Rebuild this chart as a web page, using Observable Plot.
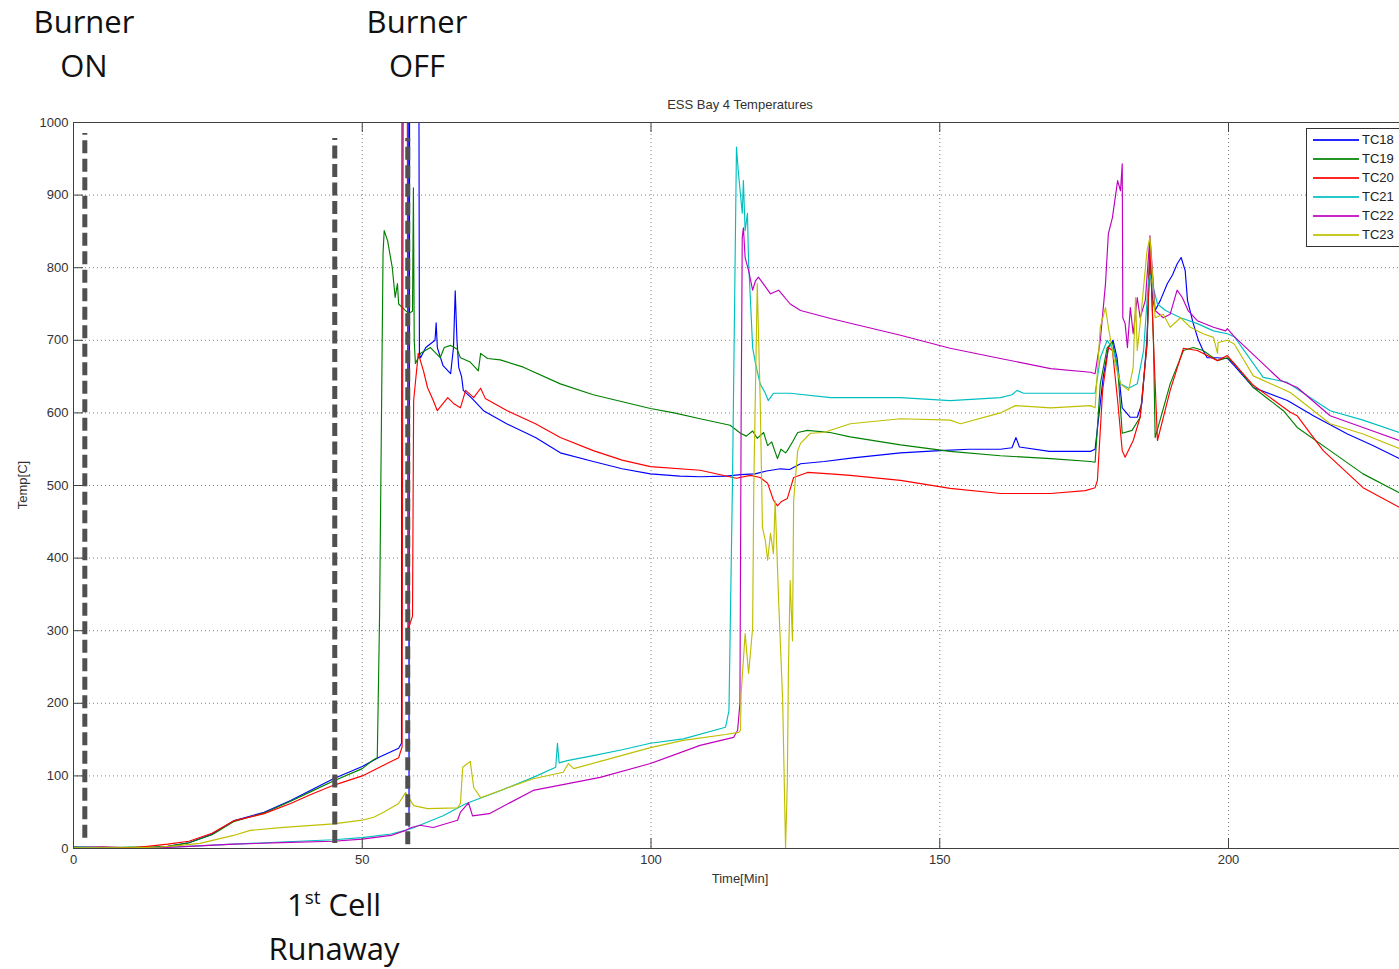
<!DOCTYPE html>
<html>
<head>
<meta charset="utf-8">
<title>ESS Bay 4 Temperatures</title>
<script src="https://cdn.jsdelivr.net/npm/d3@7"></script>
<script src="https://cdn.jsdelivr.net/npm/@observablehq/plot@0.6"></script>
<style>
  html, body { margin: 0; padding: 0; background: #fff; overflow: hidden; }
  #wrap { position: relative; width: 1399px; height: 969px; overflow: hidden; background: #fff; }
  #chart { position: absolute; left: 0; top: 0; width: 1460px; }
  #chart svg { max-width: none !important; }
  .note {
    position: absolute; transform: translateX(-50%);
    font-family: "Open Sans", sans-serif; font-size: 31px; line-height: 44px;
    color: #111; text-align: center; white-space: nowrap;
  }
  .note .sup { font-size: 19px; line-height: 0; position: relative; top: -12px; }
  .small {
    position: absolute; font-family: "Liberation Sans", Arial, sans-serif;
    font-size: 13px; line-height: 15px; color: #333; white-space: nowrap;
  }
  #title, #xlabel { transform: translateX(-50%); }
  #ylabel { transform: translate(-50%, -50%) rotate(-90deg); }
  #legend {
    position: absolute; left: 1306px; top: 128px; width: 130px; height: 119px;
    box-sizing: border-box; border: 1px solid #333; background: #fff; padding-top: 1px;
  }
  #legend .item { display: flex; align-items: center; height: 19px; padding-left: 6px; }
  #legend .item .swatch { display: block; width: 46px; height: 2px; margin-right: 3px; opacity: 0.85; }
  #legend .item span.name { font-family: "Liberation Sans", Arial, sans-serif; font-size: 13px; color: #222; }
</style>
</head>
<body>
<div id="wrap">
  <div id="chart"></div>
  <div class="note" style="left:84px; top:-1px;">Burner<br>ON</div>
  <div class="note" style="left:417px; top:-1px;">Burner<br>OFF</div>
  <div class="note" style="left:334px; top:882px;">1<span class="sup">st</span> Cell<br>Runaway</div>
  <div class="small" id="title" style="left:740px; top:97px;">ESS Bay 4 Temperatures</div>
  <div class="small" id="xlabel" style="left:740px; top:871px;">Time[Min]</div>
  <div class="small" id="ylabel" style="left:22px; top:485px;">Temp[C]</div>
  <div id="legend"></div>
</div>
<script>
// Thermocouple readings: [time in minutes, temperature in °C]
const tc18 = [[0,2],[5,2],[10,1],[14,2],[16.3,3],[20,8],[24,20],[27.7,38],[33,50],[37.6,66],[41,80],[45,96],[50,113],[53,126],[56.3,138],[56.8,145],[56.9,1100],[58.05,1100],[58.1,30],[58.2,1100],[59.8,1100],[59.9,680],[60.1,676],[61,690],[62.6,700],[62.8,724],[63,690],[64,665],[65.3,654],[65.8,690],[66.1,768],[66.4,700],[66.7,663],[67.2,650],[67.5,631],[69,620],[71,603],[75,585],[80,566],[84.3,545],[90,533],[95,523],[99.9,516],[105,513],[108.5,512],[113,513],[115.5,515],[118,516],[120,520],[122.4,523],[124,522],[125.9,530],[130,533],[135,538],[143.2,545],[150,548],[155,550],[160.5,550],[162.5,552],[163.2,566],[163.8,553],[169,547],[176.1,547],[176.9,550],[178.3,649],[179.2,690],[180,700],[180.7,676],[181.6,607],[183,594],[184.2,594],[185,613],[185.9,704],[186.4,824],[186.8,760],[187.3,741],[188.2,755],[189.4,778],[190.3,790],[191.1,805],[191.8,814],[192.5,796],[192.9,755],[193.9,723],[194.8,700],[195.6,686],[196.3,676],[198,676],[199.8,675],[201,665],[204.3,635],[210.2,617],[214.7,596],[220.6,571],[225,555],[229.6,537],[232,530]];

const tc19 = [[0,2],[5,1],[10,2],[14,2],[16.3,3],[20,8],[24,19],[27.7,37],[33,49],[37.6,65],[41,78],[45,93],[50,110],[51.9,122],[52.6,125],[53,320],[53.6,820],[53.8,851],[54.4,837],[55.2,800],[55.7,759],[56.1,778],[56.3,750],[57.1,744],[58,737],[58.7,740],[58.86,910],[59,700],[59.2,668],[60.1,682],[61.8,690],[63.5,676],[64.2,690],[65.3,693],[66.4,688],[67,676],[68.7,670],[70.1,658],[70.5,682],[71.7,675],[73.9,673],[77.9,663],[84.3,640],[90,625],[99.9,606],[104,600],[108.5,592],[113.7,583],[115.5,572],[116.5,568],[117.6,575],[118.4,565],[119.5,573],[120.2,555],[120.9,560],[121.9,537],[122.5,550],[123.3,545],[123.6,548],[124.5,560],[125.4,573],[127.1,576],[131,573],[134.5,567],[143.2,556],[151.8,547],[160.5,541],[169.2,537],[176.1,533],[176.9,532],[177.8,640],[179,690],[179.9,697],[180.8,663],[181.6,572],[183.3,576],[184.7,594],[185.9,695],[186.4,830],[187,700],[187.3,566],[187.8,580],[189.9,640],[192.2,686],[193.9,690],[195.6,686],[198.1,672],[199.8,676],[201,668],[204.3,635],[209.5,603],[211.9,580],[217.6,548],[223.3,516],[229.6,490],[232,480]];

const tc20 = [[0,1],[5,2],[10,1],[12.8,3],[16.3,6],[20,10],[24,21],[27.7,38],[33,48],[37.6,62],[41,74],[45,87],[50,100],[53,112],[56.3,125],[56.9,140],[57.1,1100],[57.8,1100],[57.9,300],[58.7,320],[58.9,617],[59.7,682],[60.6,658],[61.3,635],[62.3,617],[63,603],[64.8,621],[65.8,613],[67,607],[67.9,631],[69.3,621],[70.5,634],[71.3,620],[75.1,603],[80,585],[84.3,566],[90,548],[95,535],[99.9,526],[108.5,521],[114.8,510],[117.2,514],[118.9,511],[120.2,503],[121.2,480],[121.9,472],[122.6,478],[123.6,482],[124.7,511],[127.1,518],[131,516],[134.5,514],[143.2,507],[151.8,496],[160.5,489],[169.2,489],[175.2,493],[176.9,497],[177.3,507],[178.2,631],[179.2,690],[179.9,686],[180.8,617],[181.6,548],[182.1,539],[183.5,562],[184.7,594],[185.9,695],[186.4,835],[187,700],[187.7,562],[189.9,631],[192.2,689],[194.6,686],[198.1,672],[199.8,679],[201,668],[204.3,638],[210.7,601],[211.9,596],[216.4,548],[223.3,497],[229.6,470],[232,462]];

const tc21 = [[0,1],[5,1],[10,0],[13,1],[20,3],[27.7,6],[36,9],[45,12],[50,15],[55,20],[57.5,25],[59,29],[64,45],[68,62],[74,80],[79.6,98],[83.5,112],[83.8,145],[84.1,118],[85.5,121],[90,128],[95,136],[99.9,145],[105.6,151],[112.9,167],[113.5,190],[114.1,500],[114.8,966],[115.1,934],[115.8,875],[116,920],[116.3,851],[116.7,875],[116.9,806],[117.2,759],[117.6,690],[118.1,668],[118.9,640],[119.8,627],[120.3,617],[121.2,627],[124.1,627],[131.1,621],[143.2,621],[151.8,617],[160.5,621],[162.5,625],[163.4,631],[164.5,627],[169.2,627],[176.1,627],[176.9,627],[177.8,676],[179,700],[180.1,686],[181.3,640],[182.7,634],[184.2,640],[185.3,686],[186.1,778],[186.4,790],[187.7,750],[189.1,741],[191.7,731],[194.6,723],[197.4,713],[199.8,709],[201,705],[206,649],[210.2,642],[217.6,603],[223.3,590],[229.6,573],[232,568]];

const tc22 = [[0,0],[10,0],[15,1],[20,3],[27.7,6],[36,8],[45,10],[50,13],[55,18],[57.5,25],[58.5,29],[60,32],[62.3,29],[66.5,39],[67,50],[68.4,63],[69.1,45],[72,48],[79.6,80],[91.2,98],[99.9,117],[108.5,142],[114.3,153],[115,163],[115.4,200],[115.6,580],[115.8,842],[116,855],[116.3,814],[116.9,796],[117.6,769],[118.1,782],[118.6,787],[120.7,764],[122.1,769],[124.1,750],[125.9,741],[131.1,730],[143.2,707],[151.8,689],[160.5,675],[169.2,661],[176.1,656],[176.9,654],[177.8,700],[178.7,778],[179.2,847],[179.9,869],[180.8,920],[181.3,906],[181.6,943],[181.7,731],[182.1,723],[182.5,690],[183,745],[183.5,709],[184.2,759],[184.7,731],[185.6,755],[186.4,844],[187.3,741],[188.7,731],[189.9,736],[191.1,769],[192,759],[193,741],[194.6,727],[197.4,718],[199.5,713],[199.8,716],[201,705],[209,645],[211.9,635],[217.6,596],[223.3,580],[229.6,562],[232,557]];

const tc23 = [[0,1],[10,1],[15,2],[18,4],[21.9,7],[27.7,18],[30.6,25],[36.4,29],[45,34],[50,39],[52,43],[53.7,50],[56.3,62],[57.5,77],[58.9,59],[61.3,55],[66.5,56],[67,62],[67.4,112],[68.7,120],[69.3,84],[70.5,70],[73.9,80],[79.6,96],[84.8,105],[85.7,117],[86.6,110],[91.2,120],[99.9,139],[105.6,149],[112.9,157],[115.2,160],[115.5,163],[115.6,213],[116.3,296],[116.9,241],[117.6,304],[117.8,500],[118.4,778],[118.6,713],[118.9,621],[119.3,442],[119.8,424],[120.2,397],[120.7,434],[121.2,406],[121.5,479],[122.1,342],[122.8,204],[123.3,1],[123.6,89],[123.8,249],[124.1,369],[124.5,286],[124.7,479],[125.4,548],[125.9,558],[127.6,572],[129.9,573],[131.1,576],[134.5,585],[143.2,592],[151.8,590],[153.6,585],[160.5,600],[163.1,610],[169.2,607],[176.1,610],[176.9,607],[177.8,718],[178.7,745],[179.2,718],[180.1,676],[181.3,640],[182.7,631],[183.5,663],[183.9,759],[184.2,686],[184.7,723],[185.9,824],[186.4,842],[187.3,731],[188.7,736],[189.9,718],[191.7,731],[193.4,718],[195.6,709],[197.4,704],[198.1,682],[198.2,697],[199.8,700],[201,695],[204.3,651],[210.7,628],[217.6,585],[223.3,571],[229.6,551],[232,546]];

const seriesNames  = ["TC18", "TC19", "TC20", "TC21", "TC22", "TC23"];
const seriesValues = [tc18, tc19, tc20, tc21, tc22, tc23];
const seriesColors = ["#0000ff", "#008000", "#ff0000", "#00bfbf", "#bf00bf", "#bfbf00"];

// Axis ticks
const xTicks = [0, 50, 100, 150, 200];
const yTicks = [0, 100, 200, 300, 400, 500, 600, 700, 800, 900, 1000];

// Test events marked with dashed rules: time and vertical extent (°C)
const eventTimes  = [1.96, 45.24, 57.88];
const eventTop    = [985, 978, 978];
const eventBottom = [14, 7, 5];

// Layout
const W = 1460, H = 969;
const mLeft = 73, mTop = 122, mBottom = 121, mRight = 1;
const xDomain = [0, 240], yDomain = [0, 1000];
const pxPerX = (W - mLeft - mRight) / (xDomain[1] - xDomain[0]);
const pxPerY = (H - mTop - mBottom) / (yDomain[1] - yDomain[0]);
const TICK_PX = 10;
const tickLenY = TICK_PX / pxPerY;   // length of x-axis ticks in °C
const tickLenX = TICK_PX / pxPerX;   // length of y-axis ticks in minutes

const rows = (vals) => vals.map(([t, v]) => ({t, v}));
const events = eventTimes.map((t, i) => ({t, top: eventTop[i], bottom: eventBottom[i]}));

const axisColor = "#404040";
const gridStyle = {stroke: "#808080", strokeWidth: 1, strokeDasharray: "1,3"};

const marks = [
  // dotted grid
  Plot.ruleX(xTicks.filter(d => d > xDomain[0]), gridStyle),
  Plot.ruleY(yTicks.filter(d => d > yDomain[0] && d < yDomain[1]), gridStyle),
  // temperature traces
  ...seriesValues.map((vals, i) =>
    Plot.line(rows(vals), {x: "t", y: "v", stroke: seriesColors[i], strokeWidth: 1.15, clip: true})
  ),
  // axes box (left, bottom, top)
  Plot.ruleX([xDomain[0]], {stroke: axisColor}),
  Plot.ruleY([yDomain[0], yDomain[1]], {stroke: axisColor}),
  // inward tick marks
  Plot.ruleX(xTicks, {x: d => d, y1: yDomain[0], y2: yDomain[0] + tickLenY, stroke: axisColor}),
  Plot.ruleX(xTicks, {x: d => d, y1: yDomain[1] - tickLenY, y2: yDomain[1], stroke: axisColor}),
  Plot.ruleY(yTicks, {y: d => d, x1: xDomain[0], x2: xDomain[0] + tickLenX, stroke: axisColor}),
  // burner on / first runaway / burner off
  Plot.ruleX(events, {x: "t", y1: "bottom", y2: "top", stroke: "#505050", strokeWidth: 5, strokeDasharray: "13,5.5"})
];

const chart = Plot.plot({
  width: W, height: H,
  marginLeft: mLeft, marginRight: mRight, marginTop: mTop, marginBottom: mBottom,
  x: {domain: xDomain, ticks: xTicks, tickSize: 0, tickPadding: 6, label: null, tickFormat: d => String(d)},
  y: {domain: yDomain, ticks: yTicks, tickSize: 0, tickPadding: 5, label: null, tickFormat: d => String(d)},
  style: {fontFamily: "'Liberation Sans', Arial, sans-serif", fontSize: "13px", color: "#333", background: "#fff", maxWidth: "none"},
  marks
});
document.getElementById("chart").appendChild(chart);

// legend
const legend = document.getElementById("legend");
seriesNames.forEach((name, i) => {
  const row = document.createElement("div");
  row.className = "item";
  row.innerHTML = `<span class="swatch" style="background:${seriesColors[i]}"></span><span class="name">${name}</span>`;
  legend.appendChild(row);
});
</script>
</body>
</html>
